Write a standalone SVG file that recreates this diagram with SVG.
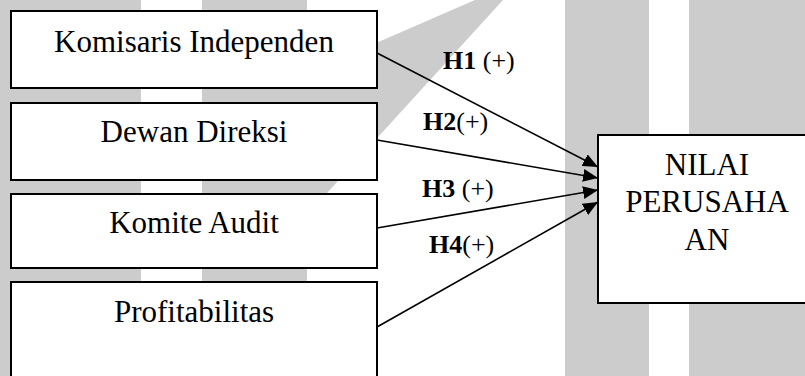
<svg xmlns="http://www.w3.org/2000/svg" width="805" height="376" viewBox="0 0 805 376">
<style>
.bg{fill:#cccccc;stroke:none}
.box{fill:#ffffff;stroke:#000000;stroke-width:2}
.t{font-family:"Liberation Serif","Times New Roman",serif;font-size:31px;fill:#000;text-anchor:middle}
.lab{font-family:"Liberation Serif","Times New Roman",serif;font-size:26px;fill:#000}
.b{font-weight:bold}
.edge{stroke:#000;stroke-width:1.6;fill:none;marker-end:url(#ah)}
</style>
<defs>
<marker id="ah" markerUnits="userSpaceOnUse" markerWidth="16" markerHeight="13" refX="15" refY="6.5" orient="auto">
<path d="M0,0 L15,6.5 L0,13 z" fill="#000"/>
</marker>
</defs>
<rect x="0" y="0" width="805" height="376" fill="#ffffff"/>
<g id="watermark">
<rect class="bg" x="0" y="0" width="141" height="376"/>
<polygon class="bg" points="202,0 307,0 307,73 475,0 503,0 307,215 307,376 202,376"/>
<rect class="bg" x="565" y="0" width="84" height="376"/>
<rect class="bg" x="689" y="0" width="116" height="376"/>
</g>
<g id="connectors">
<line class="edge" x1="377" y1="53" x2="598" y2="167"/>
<line class="edge" x1="377" y1="140" x2="598" y2="178"/>
<line class="edge" x1="377" y1="228" x2="598" y2="190"/>
<line class="edge" x1="377" y1="327" x2="598" y2="202"/>
</g>
<g id="labels">
<text class="lab" x="443" y="69"><tspan class="b">H1</tspan> (+)</text>
<text class="lab" x="423" y="130"><tspan class="b">H2</tspan>(+)</text>
<text class="lab" x="422" y="197"><tspan class="b">H3</tspan> (+)</text>
<text class="lab" x="429" y="253"><tspan class="b">H4</tspan>(+)</text>
</g>
<g id="komisaris">
<rect class="box" x="11" y="11" width="366" height="77"/>
<text class="t" x="194" y="52">Komisaris Independen</text>
</g>
<g id="dewan">
<rect class="box" x="11" y="103" width="366" height="77"/>
<text class="t" x="194" y="142">Dewan Direksi</text>
</g>
<g id="komite">
<rect class="box" x="11" y="194" width="366" height="74"/>
<text class="t" x="194" y="233">Komite Audit</text>
</g>
<g id="profitabilitas">
<rect class="box" x="11" y="282" width="366" height="110"/>
<text class="t" x="194" y="322">Profitabilitas</text>
</g>
<g id="nilai">
<rect class="box" x="598" y="135" width="220" height="168"/>
<text class="t" x="707" y="175">NILAI</text>
<text class="t" x="707" y="212">PERUSAHA</text>
<text class="t" x="707" y="250">AN</text>
</g>
</svg>
